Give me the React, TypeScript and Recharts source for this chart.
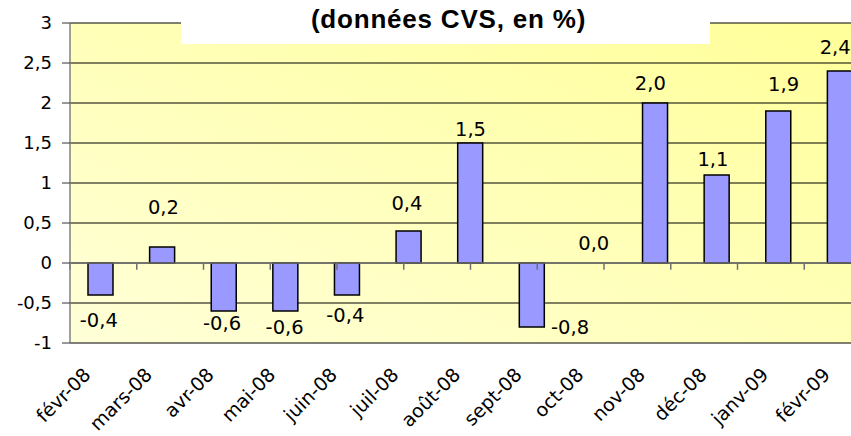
import React from 'react';
import { ComposedChart, Bar, Line, XAxis, YAxis, CartesianGrid, ReferenceLine, LabelList } from 'recharts';

const months = ['févr-08', 'mars-08', 'avr-08', 'mai-08', 'juin-08', 'juil-08', 'août-08', 'sept-08', 'oct-08', 'nov-08', 'déc-08', 'janv-09', 'févr-09'];
const values = [-0.4, 0.2, -0.6, -0.6, -0.4, 0.4, 1.5, -0.8, 0.0, 2.0, 1.1, 1.9, 2.4];
const yTicks = [-1, -0.5, 0, 0.5, 1, 1.5, 2, 2.5, 3];
const title = '(données CVS, en %)';

// label placement styles (pixel offsets from bar end), as in the original chart
const labelDy = [25, -40, 12, 16, 20, -28, -14, 0, -20, -20, -16, -27, -24];
const labelDx = [-2, 1, -2, -1, -2, -2, 0, 38, 0, -5, -4, 5, -5];

const data = months.map((m, i) => ({ month: m, value: values[i] }));
const boundaries = months.map((_, i) => i);

const fmt = (v: number) => String(v).replace('.', ',');
const fmt1 = (v: number) => v.toFixed(1).replace('.', ',');

const XTick = (props: any) => {
  const { x, y, payload } = props;
  const ax = x - 9;
  const ay = y + 33;
  return (
    <text x={ax} y={ay} transform={`rotate(-45, ${ax}, ${ay})`} textAnchor="end" fontFamily="DejaVu Sans" fontSize={19} fill="#000">
      {payload.value}
    </text>
  );
};

const renderLabel = (props: any) => {
  const { x, y, value, index } = props;
  const sign = value < 0 ? 1 : -1;
  const cx = x + labelDx[index];
  const cy = y + labelDy[index] + (sign > 0 ? 0 : 0);
  return (
    <text x={cx} y={cy} dy="0.36em" textAnchor="middle" fontFamily="DejaVu Sans" fontSize={19.5} fill="#000">
      {fmt1(value)}
    </text>
  );
};

export default function App() {
  return (
    <div style={{ position: 'absolute', left: 0, top: 0, width: 851, height: 436, overflow: 'hidden', background: '#fff' }}>
      <ComposedChart width={881} height={436} data={data} margin={{ top: 23, right: 10, left: 0, bottom: 0 }} barCategoryGap={0}>
        <defs>
          <linearGradient id="bgGrad" x1="0" y1="1" x2="1" y2="0">
            <stop offset="0%" stopColor="#FFFFD8" />
            <stop offset="100%" stopColor="#FFFF99" />
          </linearGradient>
        </defs>
        <CartesianGrid vertical={false} stroke="#000" strokeWidth={1} fill="url(#bgGrad)" fillOpacity={1} />
        <XAxis dataKey="month" axisLine={false} tickLine={false} tickSize={0} tickMargin={0} height={93} interval={0} tick={<XTick />} />
        <XAxis xAxisId="num" type="number" domain={[0, months.length]} hide />
        <YAxis
          domain={[-1, 3]}
          ticks={yTicks}
          width={70}
          tickFormatter={fmt}
          axisLine={{ stroke: '#808080', strokeWidth: 1.5 }}
          tickLine={{ stroke: '#333' }}
          tickSize={8}
          tickMargin={10}
          tick={{ fontFamily: 'DejaVu Sans', fontSize: 18, fill: '#000' }}
          interval={0}
        />
        <ReferenceLine y={0} stroke="#707070" strokeWidth={1.5} />
        {boundaries.map((b) => (
          <ReferenceLine
            key={b}
            xAxisId="num"
            segment={[{ x: b, y: 0 }, { x: b, y: -0.085 }]}
            stroke="#707070"
            strokeWidth={1.5}
          />
        ))}
        <Bar dataKey="value" fill="#9999FF" stroke="#000" strokeWidth={1.5} barSize={25} isAnimationActive={false} />
        <Line dataKey="value" stroke="none" dot={false} activeDot={false} isAnimationActive={false}>
          <LabelList dataKey="value" content={renderLabel} />
        </Line>
      </ComposedChart>
      <svg width={851} height={50} style={{ position: 'absolute', left: 0, top: 0 }}>
        <rect x={181} y={0} width={529} height={44} fill="#fff" />
        <text x={448.5} y={27.5} textAnchor="middle" fontFamily="Liberation Sans, Arial" fontWeight="bold" fontSize={26} letterSpacing={0.8} fill="#000">
          {title}
        </text>
      </svg>
    </div>
  );
}
